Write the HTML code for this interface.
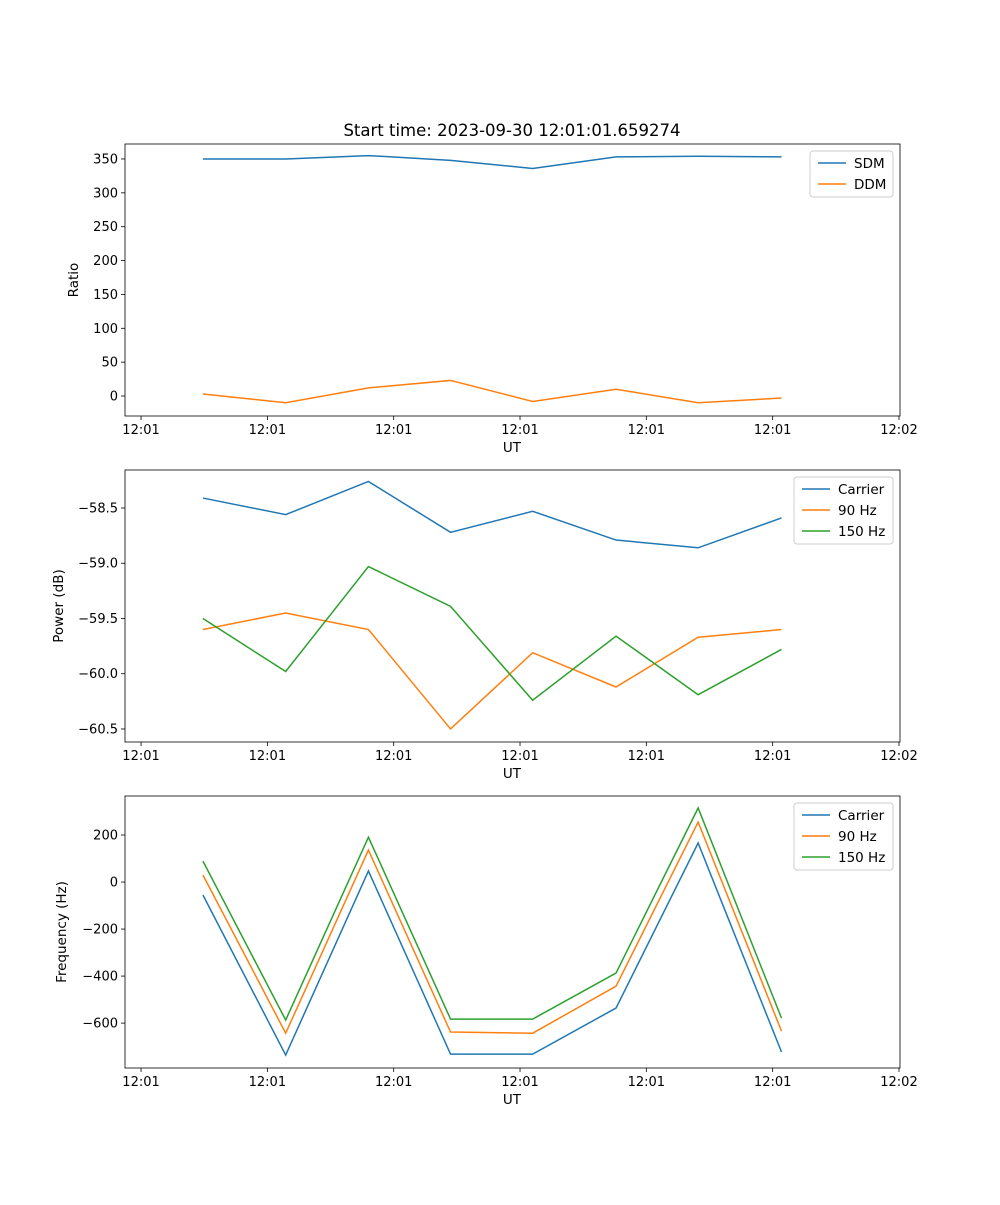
<!DOCTYPE html>
<html><head><meta charset="utf-8"><style>
body{margin:0;background:#fff}
svg text{font-family:"DejaVu Sans","Liberation Sans",sans-serif;fill:#000}
</style></head><body>
<svg id="fig" width="1000" height="1200" xmlns="http://www.w3.org/2000/svg">
<rect width="1000" height="1200" fill="#fff"/>
<text x="512" y="136" font-size="16.5" text-anchor="middle">Start time: 2023-09-30 12:01:01.659274</text>
</svg>
<script>
const xVals=[0.49,1.145,1.80,2.45,3.10,3.76,4.41,5.07];
const xTickLabels=["12:01","12:01","12:01","12:01","12:01","12:01","12:02"];
const sdm=[350,350,355,348,336,353,354,353];
const ddm=[3,-10,12,23,-8,10,-10,-3];
const pCarrier=[-58.41,-58.56,-58.26,-58.72,-58.53,-58.79,-58.86,-58.59];
const p90=[-59.60,-59.45,-59.60,-60.50,-59.81,-60.12,-59.67,-59.60];
const p150=[-59.50,-59.98,-59.03,-59.39,-60.24,-59.66,-60.19,-59.78];
const fCarrier=[-55,-736,47,-732,-732,-536,166,-723];
const f90=[30,-643,136,-638,-643,-443,255,-634];
const f150=[89,-587,191,-583,-583,-387,315,-579];
const ticks1=[0,50,100,150,200,250,300,350];
const ticks2=[-58.5,-59.0,-59.5,-60.0,-60.5];
const ticks3=[200,0,-200,-400,-600];
const svg=document.getElementById('fig');
const NS="http://www.w3.org/2000/svg";
function mk(tag,attrs,parent){const e=document.createElementNS(NS,tag);for(const k in attrs)e.setAttribute(k,attrs[k]);(parent||svg).appendChild(e);return e;}
const L=125,R=900,xmin=-0.127,xmax=6.008;
const xs=v=>L+(v-xmin)/(xmax-xmin)*(R-L);
const C=['#1f77b4','#ff7f0e','#2ca02c'];
function panel(name,top,bot,ymin,ymax,ticks,fmt,ylabel,ylx,series,names,legX,legW){
  const g=mk('g',{});
  
  
  const ys=v=>bot-(v-ymin)/(ymax-ymin)*(bot-top);
  series.forEach((s,i)=>{
    const p=mk('polyline',{points:s.map((v,j)=>xs(xVals[j])+','+ys(v)).join(' '),fill:'none',stroke:C[i],'stroke-width':1.5},g);
    
    
  });
  mk('rect',{x:L,y:top,width:R-L,height:bot-top,fill:'none',stroke:'#000','stroke-width':0.8},g);
  xTickLabels.forEach((t,i)=>{
    const x=xs(i);
    mk('line',{x1:x,x2:x,y1:bot,y2:bot+4,stroke:'#000','stroke-width':0.8},g);
    const tx=mk('text',{x:x,y:bot+18,'font-size':13,'text-anchor':'middle'},g);tx.textContent=t;
    
    
  });
  const xl=mk('text',{x:512,y:bot+36,'font-size':13.5,'text-anchor':'middle'},g);xl.textContent='UT';
  
  
  ticks.forEach(t=>{
    const y=ys(t);
    mk('line',{x1:L-4,x2:L,y1:y,y2:y,stroke:'#000','stroke-width':0.8},g);
    const tx=mk('text',{x:L-7,y:y+4.5,'font-size':13,'text-anchor':'end'},g);tx.textContent=fmt(t);
    
    
  });
  const yl=mk('text',{x:ylx,y:(top+bot)/2,'font-size':13.5,'text-anchor':'middle',transform:`rotate(-90 ${ylx} ${(top+bot)/2})`},g);yl.textContent=ylabel;
  
  
  const lg=mk('g',{},g);
  
  
  const lh=21*names.length+4;
  mk('rect',{x:legX,y:top+7,width:legW,height:lh,rx:3,fill:'#fff',stroke:'#ccc'},lg);
  names.forEach((n,i)=>{
    const y=top+19+i*21;
    mk('line',{x1:legX+8,x2:legX+36,y1:y,y2:y,stroke:C[i],'stroke-width':1.5},lg);
    const tx=mk('text',{x:legX+44,y:y+5,'font-size':13.5},lg);tx.textContent=n;
    
    
  });
}
panel('ratio-panel',144,416,-29.5,372.1,ticks1,v=>String(v),'Ratio',78,[sdm,ddm],['SDM','DDM'],810,83);
panel('power-panel',470,742,-60.618,-58.156,ticks2,v=>v.toFixed(1).replace('-','\u2212'),'Power (dB)',63,[pCarrier,p90,p150],['Carrier','90 Hz','150 Hz'],794,99);
panel('frequency-panel',796,1068,-791,366,ticks3,v=>String(v).replace('-','\u2212'),'Frequency (Hz)',66,[fCarrier,f90,f150],['Carrier','90 Hz','150 Hz'],794,99);
</script>
</body></html>
